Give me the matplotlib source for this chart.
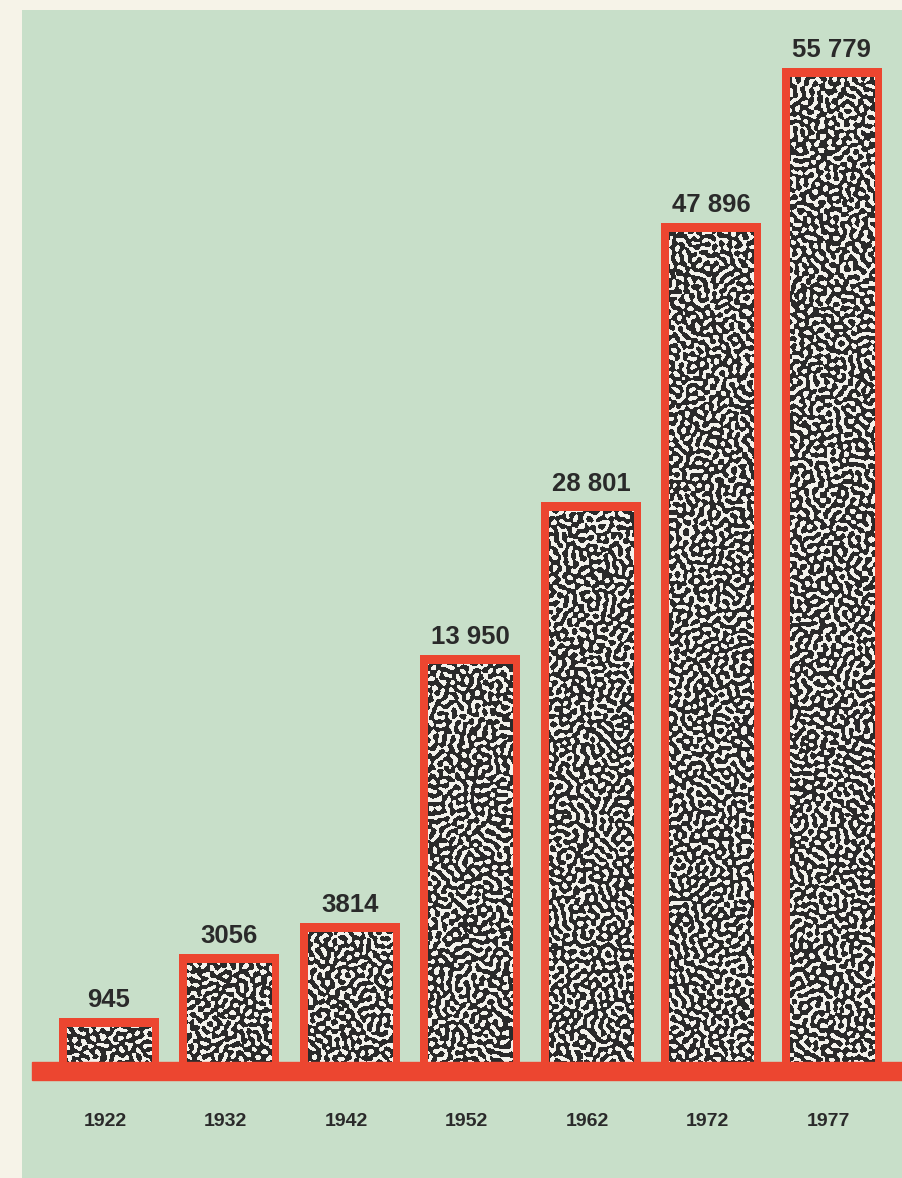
import matplotlib
matplotlib.use('Agg')
import matplotlib.pyplot as plt
import matplotlib.patches as patches
from matplotlib.colors import ListedColormap
import numpy as np

# Colours
PAPER = '#f6f3e8'
GREEN = '#c8dfc9'
RED = '#ec4630'
INK = '#2a2a2a'
SPECK_LIGHT = '#f3f2ec'

FONT = ['Liberation Sans', 'DejaVu Sans']

# Data
years = ['1922', '1932', '1942', '1952', '1962', '1972', '1977']
values = ['945', '3056', '3814', '13 950', '28 801', '47 896', '55 779']
# drawn bar heights (the picture is not to scale), in chart units
bar_heights = [46, 110, 141, 409, 562, 841, 996]

W, H = 902, 1178
fig = plt.figure(figsize=(W / 100, H / 100), dpi=100)
fig.patch.set_facecolor(PAPER)
ax = fig.add_axes([0, 0, 1, 1])
ax.axis('off')

# 1 chart unit ~ 1 px vertically, one category ~ 120.5 px horizontally
ax.set_xlim(-0.904, 6.582)
ax.set_ylim(-114, 1064)

# green printed area (cream paper border on the left and top)
ax.add_patch(patches.Rectangle((22 / W, 0), 1, 1 - 10 / H, transform=ax.transAxes,
                               facecolor=GREEN, edgecolor='none', zorder=0))

x = np.arange(len(years))
bars = ax.bar(x, bar_heights, width=0.83, color=RED, zorder=2)

# speckled "worm" texture for the bar fill
rng = np.random.default_rng(7)
noise = rng.standard_normal((H, W))
fy = np.fft.fftfreq(H)[:, None]
fx = np.fft.fftfreq(W)[None, :]
r = np.sqrt(fx ** 2 + fy ** 2)
filt = np.exp(-((r - 0.125) / 0.035) ** 2)
field = np.real(np.fft.ifft2(np.fft.fft2(noise) * filt))
tex = (field > -0.22 * field.std()).astype(float)
cmap = ListedColormap([SPECK_LIGHT, INK])

x0, x1 = ax.get_xlim()
y0, y1 = ax.get_ylim()
bx = 8 / 120.5   # red side border
by = 9           # red top border
for rect in bars:
    inner = patches.Rectangle((rect.get_x() + bx, 0), rect.get_width() - 2 * bx,
                              rect.get_height() - by, transform=ax.transData)
    im = ax.imshow(tex, cmap=cmap, extent=(x0, x1, y0, y1), origin='upper',
                   aspect='auto', interpolation='nearest', zorder=3)
    im.set_clip_path(inner)

# red baseline
ax.axhspan(-16, 2, xmin=32 / W, xmax=1, color=RED, zorder=4)

# value labels above bars
for rect, lab in zip(bars, values):
    ax.text(rect.get_x() + rect.get_width() / 2, rect.get_height() + 11, lab,
            ha='center', va='baseline', fontsize=18.5, fontweight='heavy',
            color=INK, family=FONT, zorder=5)

# year labels under the baseline
for xi, yr in zip(x, years):
    ax.text(xi - 0.03, -62, yr, ha='center', va='baseline', fontsize=14,
            fontweight='bold', color=INK, family=FONT, zorder=5)

fig.savefig('out.png', dpi=100, facecolor=PAPER)
